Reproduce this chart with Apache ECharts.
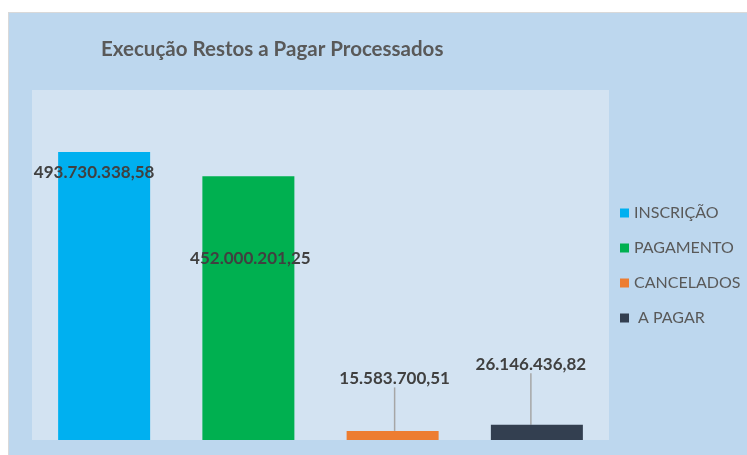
<!DOCTYPE html>
<html>
<head>
<meta charset="utf-8">
<script src="https://cdn.jsdelivr.net/npm/echarts@6/dist/echarts.min.js"></script>
<style>
html, body { margin: 0; padding: 0; background: #fff; }
#frame { position: absolute; left: 8px; top: 12px; width: 739px; height: 443px; border-left: 1px solid #d9d9d9; border-top: 1px solid #d9d9d9; background: #bdd7ee; }
#echart { width: 739px; height: 443px; }
</style>
</head>
<body>
<div id="frame"><div id="echart"></div></div>
<script>
// data
var categories = ['INSCRIÇÃO', 'PAGAMENTO', 'CANCELADOS', 'A PAGAR'];
var legendNames = ['INSCRIÇÃO', 'PAGAMENTO', 'CANCELADOS', ' A PAGAR'];
var values = [493730338.58, 452000201.25, 15583700.51, 26146436.82];
var colors = ['#00b0f0', '#00b050', '#ed7d31', '#333f50'];
// label offsets from the bar's top-left corner
var labelOffsets = [[36, 21], [48, 82], [48, -52], [40, -60]];
var showLeader = [false, false, true, true];

function fmtBR(v) {
	var parts = v.toFixed(2).split('.');
	var int = parts[0].replace(/\B(?=(\d{3})+(?!\d))/g, '.');
	return int + ',' + parts[1];
}

var myChart = echarts.init(document.getElementById('echart'));
var series = [];
for (var i = 0; i < categories.length; i++) {
	(function (i) {
		var data = [];
		for (var j = 0; j < categories.length; j++) {
			data.push(j === i ? values[j] : '-');
		}
		series.push({
			name: legendNames[i],
			type: 'bar',
			stack: 'total',
			barWidth: 92,
			itemStyle: { color: colors[i] },
			data: data,
			label: {
				show: true,
				position: 'top',
				formatter: function (p) { return fmtBR(p.value); },
				fontFamily: 'Lato',
				fontWeight: 'bold',
				fontSize: 17,
				color: '#404040'
			},
			labelLine: {
				show: showLeader[i],
				lineStyle: { color: '#a6a6a6', width: 1.5 }
			},
			labelLayout: function (params) {
				var o = labelOffsets[i];
				return {
					x: params.rect.x + o[0],
					y: params.rect.y + o[1],
					align: 'center',
					verticalAlign: 'middle'
				};
			}
		});
	})(i);
}

option = {
	backgroundColor: '#bdd7ee',
	title: {
		text: 'Execução Restos a Pagar Processados',
		left: 87,
		top: 21,
		textStyle: {
			fontFamily: 'Lato',
			fontWeight: 'bold',
			fontSize: 20.5,
			color: '#595959'
		}
	},
	legend: {
		orient: 'vertical',
		left: 606,
		top: 187,
		itemGap: 19,
		itemWidth: 9,
		itemHeight: 9,
		icon: 'rect',
		data: legendNames,
		textStyle: {
			fontFamily: 'Lato',
			fontSize: 16,
			color: '#595959'
		}
	},
	grid: {
		left: 23,
		top: 77,
		width: 577,
		height: 350,
		show: true,
		borderWidth: 0,
		backgroundColor: '#d3e3f2'
	},
	xAxis: {
		type: 'category',
		data: categories,
		axisLine: { show: false },
		axisTick: { show: false },
		axisLabel: { show: false }
	},
	yAxis: {
		type: 'value',
		min: 0,
		max: 600000000,
		show: false,
		splitLine: { show: false }
	},
	series: series
};
myChart.setOption(option);
</script>
</body>
</html>
